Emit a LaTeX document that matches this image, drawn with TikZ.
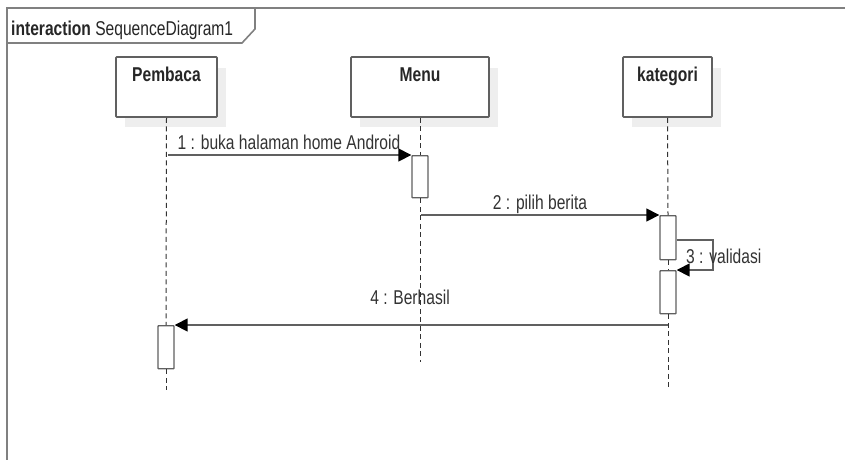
\documentclass[tikz,border=0pt]{standalone}
\usepackage{fontspec}
\setmainfont{Liberation Sans}[FakeStretch=0.78]
\usetikzlibrary{arrows.meta}
\definecolor{frameline}{HTML}{808080}
\definecolor{umlline}{HTML}{606060}
\definecolor{umltext}{HTML}{333333}
\definecolor{umlshadow}{HTML}{EEEEEE}
\tikzset{
  headbox/.style={draw=umlline, line width=1.6pt, fill=white, minimum width=#1, minimum height=60pt,
    inner sep=0pt, rounded corners=0.8pt},
  headshadow/.style={fill=umlshadow, draw=none},
  headlabel/.style={anchor=north, font=\fontsize{20}{22}\selectfont\bfseries, text=black!85, inner sep=0pt},
  actbox/.style={draw=umlline, line width=1.4pt, fill=white, minimum width=16pt, minimum height=#1,
    inner sep=0pt, anchor=north, rounded corners=0.6pt},
  lifeline/.style={draw=black!80, line width=1pt, dash pattern=on 5pt off 3.5pt},
  msg/.style={draw=umlline, line width=1.6pt,
    -{Triangle[length=13pt,width=13pt,color=black,fill=black]}},
  msglabel/.style={font=\fontsize{20}{22}\selectfont, text=umltext, inner sep=0pt, anchor=base},
}
\begin{document}
\begin{tikzpicture}[x=1pt,y=-1pt]
\useasboundingbox (0,0) rectangle (845,459);

% frame with its name tab
\draw[frameline, line width=1.8pt] (847,8) -- (7,8) -- (7,462);
\draw[frameline, line width=1.6pt] (7,43) -- (242,43) -- (255,29) -- (255,8);
\node[anchor=base west, inner sep=0pt, text=black!85, font=\fontsize{20}{22}\selectfont] (title) at (11,35)
  {\textbf{interaction} SequenceDiagram1};

% soft shadows behind the lifeline heads
\fill[headshadow] (125,68) rectangle (226,127);
\fill[headshadow] (360,68) rectangle (498,127);
\fill[headshadow] (632,68) rectangle (721,127);

% lifeline heads
\node[headbox=101pt] (pembaca) at (166.5,87) {};
\node[headbox=138pt] (menu) at (420,87) {};
\node[headbox=89pt] (kategori) at (667.5,87) {};
\node[headlabel] (lpembaca) at ([yshift=-11pt]pembaca.north) {Pembaca};
\node[headlabel] (lmenu) at ([yshift=-11pt]menu.north) {Menu};
\node[headlabel] (lkategori) at ([yshift=-11pt]kategori.north) {kategori};

% activations
\node[actbox=42pt] (actmenu) at (420,155) {};
\node[actbox=44pt] (actkat1) at (668,215) {};
\node[actbox=43pt] (actkat2) at (668,270) {};
\node[actbox=43pt] (actpem) at (166,325) {};

% lifeline ends
\coordinate (endpem) at (166,390);
\coordinate (endmenu) at (420,362);
\coordinate (endkat) at (668,390);

% dashed lifelines
\draw[lifeline] (pembaca.south) -- (actpem.north);
\draw[lifeline] (actpem.south) -- (endpem);
\draw[lifeline] (menu.south) -- (actmenu.north);
\draw[lifeline] (actmenu.south) -- (endmenu);
\draw[lifeline] (kategori.south) -- (actkat1.north);
\draw[lifeline] (actkat1.south) -- (actkat2.north);
\draw[lifeline] (actkat2.south) -- (endkat);

% messages
\coordinate (m1start) at (168,155);
\coordinate (m2start) at (421,215);
\coordinate (m4start) at (668,325);
\draw[msg] (m1start) -- (actmenu.north west);
\draw[msg] (m2start) -- (actkat1.north west);
\draw[msg] ([yshift=-25pt]actkat1.north east) -- ++(36,0) |- (actkat2.north east);
\draw[msg] (m4start) -- (actpem.north east);

% message labels
\node[msglabel] (l1) at (289,149) {1 : buka halaman home Android};
\node[msglabel] (l2) at (540,209) {2 : pilih berita};
\node[msglabel, anchor=base west] (l3) at (686,263) {3 : validasi};
\node[msglabel] (l4) at (410,304) {4 : Berhasil};
\end{tikzpicture}
\end{document}
